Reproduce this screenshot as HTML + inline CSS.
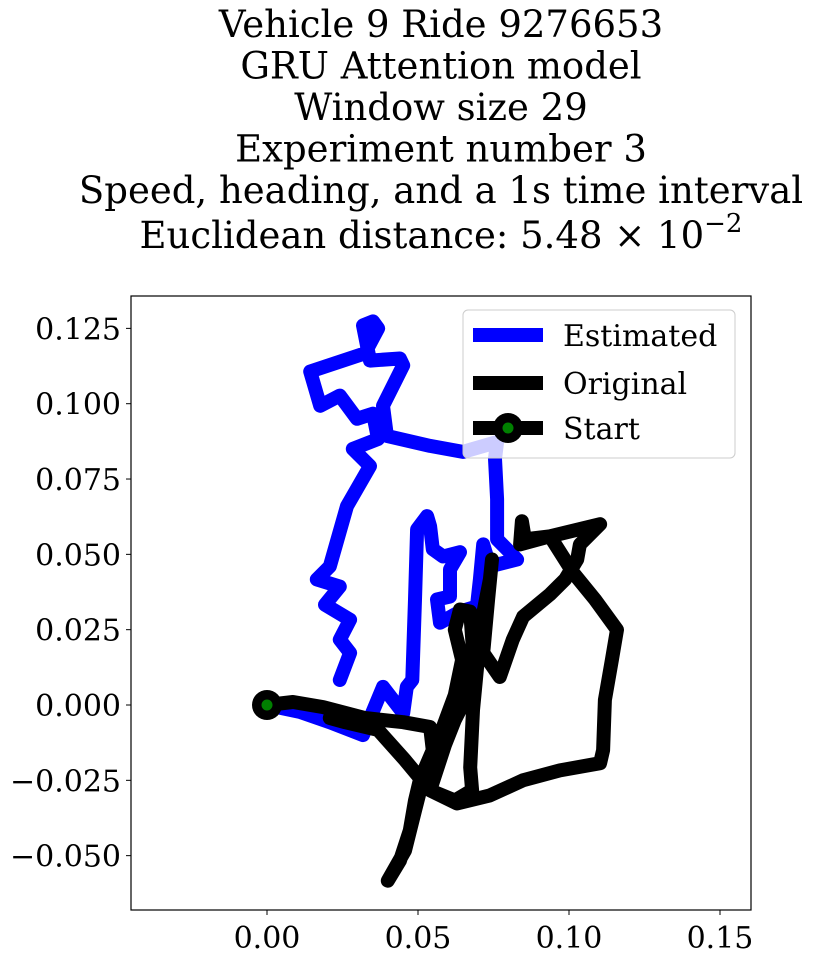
<!DOCTYPE html>
<html><head><meta charset="utf-8">
<style>
html,body{margin:0;padding:0;background:#fff;}
svg{display:block;}
text{font-family:"DejaVu Serif","Liberation Serif",serif;fill:#000;}
</style></head>
<body>
<svg id="chart" width="814" height="957" viewBox="0 0 814 957" xmlns="http://www.w3.org/2000/svg">
  <g font-size="37" text-anchor="middle">
    <text x="441" y="37">Vehicle 9 Ride 9276653</text>
    <text x="441" y="78.5">GRU Attention model</text>
    <text x="441" y="120">Window size 29</text>
    <text x="441" y="161.5">Experiment number 3</text>
    <text x="441" y="203">Speed, heading, and a 1s time interval</text>
    <text x="441" y="248">Euclidean distance: 5.48 × 10<tspan font-size="26" dy="-16">−2</tspan></text>
  </g>
  <g id="plot"></g>
</svg>
<script>
// Estimated trajectory (blue)
const estX = [0,0.0109,0.0208,0.0318,0.0384,0.0451,0.0463,0.0481,0.0490,0.0497,0.0530,0.0540,0.0549,0.0583,0.0639,0.0606,0.0606,0.0563,0.0573,0.0639,0.0695,0.0705,0.0716,0.0738,0.0828,0.0762,0.0762,0.0755,0.0762,0.0649,0.0540,0.0397,0.0384,0.0451,0.0440,0.0341,0.0318,0.0351,0.0368,0.0324,0.0143,0.0176,0.0241,0.0298,0.0351,0.0368,0.0284,0.0341,0.0265,0.0208,0.0165,0.0241,0.0192,0.0275,0.0241,0.0275,0.0241];
const estY = [0,-0.0023,-0.0057,-0.0100,0.0060,-0.0027,0.0060,0.0083,0.0350,0.0583,0.0627,0.0593,0.0517,0.0493,0.0507,0.0450,0.0360,0.0350,0.0273,0.0310,0.0327,0.0417,0.0533,0.0460,0.0483,0.0550,0.0683,0.0817,0.0873,0.0840,0.0860,0.0893,0.0993,0.1127,0.1150,0.1143,0.1260,0.1273,0.1250,0.1167,0.1107,0.0993,0.1027,0.0950,0.0967,0.0883,0.0850,0.0793,0.0660,0.0460,0.0417,0.0393,0.0333,0.0283,0.0217,0.0173,0.0083];
// Original trajectory (black)
const origX = [0,0.0086,0.0186,0.0324,0.0451,0.0540,0.0549,0.0506,0.0490,0.0473,0.0440,0.0400,0.0457,0.0490,0.0524,0.0573,0.0622,0.0646,0.0622,0.0639,0.0673,0.0682,0.0673,0.0622,0.0589,0.0540,0.0629,0.0738,0.0848,0.0970,0.1103,0.1113,0.1119,0.1142,0.1159,0.1086,0.1013,0.0937,0.0838,0.0844,0.0854,0.0937,0.1103,0.1036,0.1027,0.0987,0.0937,0.0848,0.0814,0.0771,0.0716,0.0732,0.0745,0.0738,0.0712,0.0698,0.0682,0.0673,0.0679,0.0622,0.0540,0.0457,0.0368,0.0259,0.0208];
const origY = [0,0.0010,-0.0007,-0.0043,-0.0057,-0.0073,-0.0150,-0.0250,-0.0317,-0.0417,-0.0517,-0.0583,-0.0483,-0.0350,-0.0217,-0.0100,0.0033,0.0150,0.0250,0.0317,0.0310,0.0183,0.0050,-0.0050,-0.0133,-0.0283,-0.0327,-0.0300,-0.0250,-0.0217,-0.0193,-0.0150,0.0017,0.0150,0.0250,0.0350,0.0440,0.0560,0.0533,0.0610,0.0550,0.0560,0.0600,0.0533,0.0483,0.0417,0.0367,0.0293,0.0217,0.0093,0.0173,0.0350,0.0483,0.0417,0.0283,0.0150,-0.0017,-0.0207,-0.0283,-0.0317,-0.0283,-0.0183,-0.0083,-0.0057,-0.0043];
const startPt = [0, 0];
const xTicks = [0.00, 0.05, 0.10, 0.15];
const xTickLabels = ["0.00","0.05","0.10","0.15"];
const yTicks = [-0.050,-0.025,0.000,0.025,0.050,0.075,0.100,0.125];
const yTickLabels = ["−0.050","−0.025","0.000","0.025","0.050","0.075","0.100","0.125"];

const L=131, R=751, T=296, B=910;
const x0px=267, y0px=705, pxPerUnit=3020;
function sx(v){return x0px + v*pxPerUnit;}
function sy(v){return y0px - v*3013;}

const NS="http://www.w3.org/2000/svg";
const plot=document.getElementById('plot');
function mk(tag, attrs, parent){const e=document.createElementNS(NS,tag);for(const k in attrs)e.setAttribute(k,attrs[k]);(parent||plot).appendChild(e);return e;}

const clip=mk('clipPath',{id:'pc'});
mk('rect',{x:L,y:T,width:R-L,height:B-T},clip);

const frameBg=mk('rect',{x:L,y:T,width:R-L,height:B-T,fill:'#fff'});



function pts(xs,ys){return xs.map((v,i)=>sx(v).toFixed(1)+','+sy(ys[i]).toFixed(1)).join(' ');}

const est=mk('polyline',{points:pts(estX,estY),fill:'none',stroke:'#0000ff','stroke-width':14,'stroke-linejoin':'round','stroke-linecap':'round','clip-path':'url(#pc)'});



const orig=mk('polyline',{points:pts(origX,origY),fill:'none',stroke:'#000','stroke-width':14,'stroke-linejoin':'round','stroke-linecap':'round','clip-path':'url(#pc)'});



const sOuter=mk('circle',{cx:sx(startPt[0]),cy:sy(startPt[1]),r:15,fill:'#000'});


mk('circle',{cx:sx(startPt[0]),cy:sy(startPt[1]),r:5.5,fill:'#008000'});

const frame=mk('rect',{x:L,y:T,width:R-L,height:B-T,fill:'none',stroke:'#000','stroke-width':1.2});



xTicks.forEach((t,i)=>{
  const px=sx(t);
  mk('line',{x1:px,y1:B,x2:px,y2:B+5,stroke:'#000','stroke-width':1});
  const tx=mk('text',{x:px,y:B+38,'font-size':30,'text-anchor':'middle'});
  tx.textContent=xTickLabels[i];
  
  
});
yTicks.forEach((t,i)=>{
  const py=sy(t);
  mk('line',{x1:L-5,y1:py,x2:L,y2:py,stroke:'#000','stroke-width':1});
  const tx=mk('text',{x:L-10,y:py+11,'font-size':30,'text-anchor':'end'});
  tx.textContent=yTickLabels[i];
  
  
});

// legend
const lg=mk('g',{});


mk('rect',{x:463,y:310,width:272,height:148,rx:5,fill:'rgba(255,255,255,0.8)',stroke:'#cccccc','stroke-width':1},lg);
const entries=[['Estimated','#0000ff',335],['Original','#000',383],['Start','#000',428]];
entries.forEach((e,i)=>{
  const g=mk('g',{},lg);
  
  
  mk('line',{x1:473,y1:e[2],x2:543,y2:e[2],stroke:e[1],'stroke-width':14},g);
  if(i===2){mk('circle',{cx:508,cy:e[2],r:15,fill:'#000'},g);mk('circle',{cx:508,cy:e[2],r:5.5,fill:'#008000'},g);}
  const t=mk('text',{x:563,y:e[2]+11,'font-size':30},g);
  t.textContent=e[0];
});
</script>
</body></html>
